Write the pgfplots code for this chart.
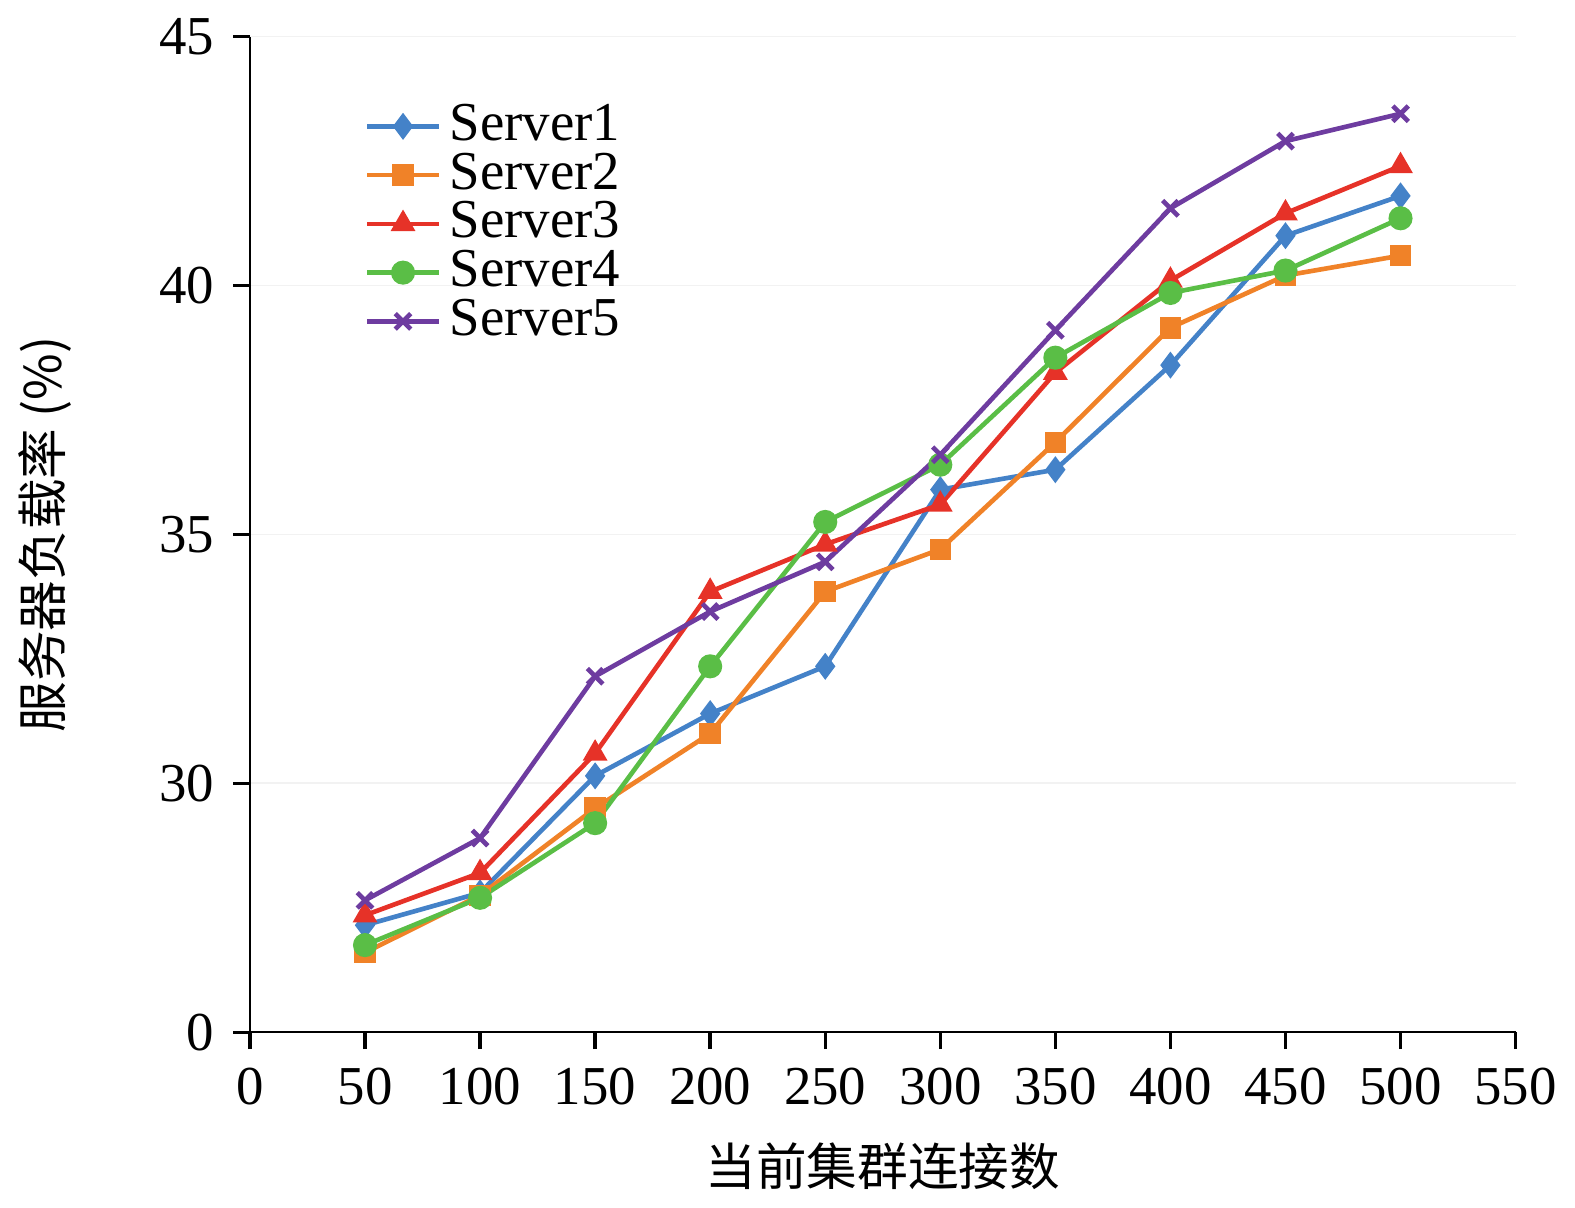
\documentclass[border=0pt]{standalone}
\usepackage{pgfplots}
\pgfplotsset{compat=1.18}
\usepackage{fontspec}
\setmainfont{Liberation Serif}
\newfontfamily\cjk{Noto Sans CJK SC}
\definecolor{c1}{RGB}{68,130,200}
\definecolor{c2}{RGB}{240,130,40}
\definecolor{c3}{RGB}{230,50,40}
\definecolor{c4}{RGB}{90,190,70}
\definecolor{c5}{RGB}{110,60,160}
\begin{document}
\fontsize{13}{15}\selectfont
\begin{tikzpicture}
\begin{axis}[width=300pt,height=236pt,scale only axis,
 xmin=0,xmax=550,ymin=25,ymax=45,
 axis lines*=left,
 xtick={0,50,...,550},ytick={25,30,35,40,45},yticklabels={0,30,35,40,45},
 tick align=outside,tick style={black,thick},
 major tick length=4pt,
 ymajorgrids,grid style={gray!10},
 /pgf/number format/assume math mode=true,
 ticklabel style={font=\fontsize{13}{15}\selectfont},
 xlabel={\cjk 当前集群连接数},ylabel={\cjk 服务器负载率 (\%)},
 ylabel style={yshift=12pt},
 label style={font=\fontsize{12}{14}\selectfont},
 legend style={draw=none,fill=none,at={(0.08,0.95)},anchor=north west,font=\fontsize{13}{13}\selectfont,row sep=-3pt},
 legend cell align=left,
 every axis plot/.append style={line width=1.1pt,mark size=2.3pt}]
\addplot[c1,mark=diamond*] coordinates {(50,27.15)(100,27.8)(150,30.15)(200,31.4)(250,32.35)(300,35.9)(350,36.3)(400,38.4)(450,41.0)(500,41.8)};
\addplot[c2,mark=square*,mark size=2pt] coordinates {(50,26.6)(100,27.75)(150,29.5)(200,31.0)(250,33.85)(300,34.7)(350,36.85)(400,39.15)(450,40.2)(500,40.6)};
\addplot[c3,mark=triangle*] coordinates {(50,27.35)(100,28.2)(150,30.6)(200,33.85)(250,34.8)(300,35.6)(350,38.25)(400,40.1)(450,41.45)(500,42.4)};
\addplot[c4,mark=*] coordinates {(50,26.75)(100,27.7)(150,29.2)(200,32.35)(250,35.25)(300,36.4)(350,38.55)(400,39.85)(450,40.3)(500,41.35)};
\addplot[c5,mark=x,mark size=2.6pt] coordinates {(50,27.65)(100,28.9)(150,32.15)(200,33.45)(250,34.45)(300,36.6)(350,39.1)(400,41.55)(450,42.9)(500,43.45)};
\legend{Server1,Server2,Server3,Server4,Server5}
\end{axis}
\end{tikzpicture}
\end{document}
